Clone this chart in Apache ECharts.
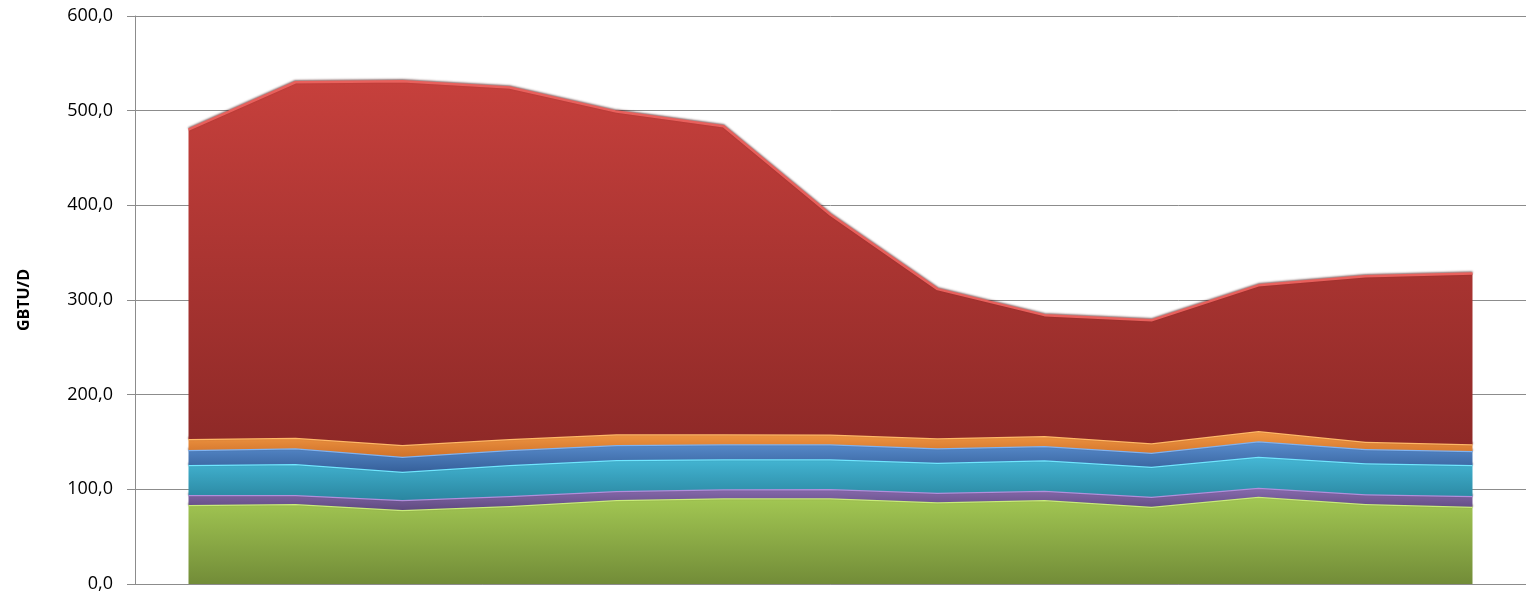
<!DOCTYPE html>
<html>
<head>
<meta charset="utf-8">
<script src="https://cdn.jsdelivr.net/npm/echarts@6/dist/echarts.min.js"></script>
<style>
html,body{margin:0;padding:0;background:#fff;}
#chart{width:1526px;height:600px;}
</style>
</head>
<body>
<div id="chart"></div>
<script>
// ---- data ----
const categories = ['P1','P2','P3','P4','P5','P6','P7','P8','P9','P10','P11','P12','P13'];
const yTicks = [0, 100, 200, 300, 400, 500, 600];
const seriesGreen  = [83.4, 84.5, 78.2, 82.4, 88.7, 90.5, 90.5, 86.3, 88.7, 81.7, 92.2, 84.5, 81.7];
const seriesPurple = [10.6, 9.5, 10.5, 10.6, 9.5, 9.5, 9.8, 10.2, 9.9, 10.5, 9.5, 10.2, 11.3];
const seriesCyan   = [31.7, 32.8, 29.9, 32.7, 32.8, 31.7, 31.4, 31.7, 32.0, 31.7, 32.8, 32.8, 32.7];
const seriesBlue   = [15.8, 16.5, 15.9, 15.8, 15.8, 15.9, 15.9, 15.1, 15.2, 14.8, 16.2, 15.1, 14.8];
const seriesOrange = [11.7, 11.2, 12.3, 11.7, 11.3, 10.5, 10.4, 10.6, 10.5, 9.9, 10.9, 7.7, 7.1];
const seriesRed    = [326.8, 375.5, 384.2, 371.3, 340.9, 325.4, 232.0, 157.6, 127.7, 129.9, 153.9, 174.7, 180.4];
const seriesNames  = ['Série 1', 'Série 2', 'Série 3', 'Série 4', 'Série 5', 'Série 6'];

// ---- styles ----
function grad(top, bottom) {
  return new echarts.graphic.LinearGradient(0, 0, 0, 1, [
    {offset: 0, color: top}, {offset: 1, color: bottom}
  ]);
}
const styles = [
  {fill: grad('#a3c853', '#728c38'), line: '#c8ec7a'},
  {fill: grad('#8a6cb0', '#5f4a80'), line: '#b08fdc'},
  {fill: grad('#45b8d6', '#2a86a0'), line: '#6fe6ff'},
  {fill: grad('#5a8fd0', '#36609a'), line: '#7fb2f0'},
  {fill: grad('#f39a45', '#d0722a'), line: '#ffb866'},
  {fill: grad('#c6403c', '#8e2927'), line: '#e8605c'}
];
const dataList = [seriesGreen, seriesPurple, seriesCyan, seriesBlue, seriesOrange, seriesRed];

const chart = echarts.init(document.getElementById('chart'));
chart.setOption({
  animation: false,
  backgroundColor: '#fff',
  grid: {left: 135, right: 0, top: 16, bottom: 16, containLabel: false},
  xAxis: {
    type: 'category',
    data: categories,
    boundaryGap: true,
    axisLine: {show: true, lineStyle: {color: '#8c8c8c', width: 1}},
    axisTick: {show: false},
    axisLabel: {show: false},
    splitLine: {show: false}
  },
  yAxis: {
    type: 'value',
    min: yTicks[0],
    max: yTicks[yTicks.length - 1],
    interval: 100,
    name: 'GBTU/D',
    nameLocation: 'middle',
    nameGap: 103,
    nameRotate: 90,
    nameTextStyle: {fontFamily: 'Open Sans', fontWeight: 'bold', fontSize: 16, color: '#000'},
    axisLine: {show: true, lineStyle: {color: '#8c8c8c', width: 1}},
    axisTick: {show: true, length: 8, inside: false, lineStyle: {color: '#8c8c8c'}},
    axisLabel: {
      margin: 22,
      fontFamily: 'Open Sans',
      fontSize: 18,
      color: '#000',
      formatter: v => v.toFixed(1).replace('.', ',')
    },
    splitLine: {show: true, lineStyle: {color: '#8c8c8c', width: 1}}
  },
  series: dataList.map((d, i) => ({
    name: seriesNames[i],
    type: 'line',
    stack: 'total',
    data: d,
    symbol: 'none',
    smooth: false,
    lineStyle: {color: styles[i].line, width: 2.5, shadowColor: 'rgba(60,10,10,0.6)', shadowBlur: 2, shadowOffsetY: -1},
    areaStyle: {color: styles[i].fill, opacity: 1},
    z: 2 + i
  }))
});
</script>
</body>
</html>
